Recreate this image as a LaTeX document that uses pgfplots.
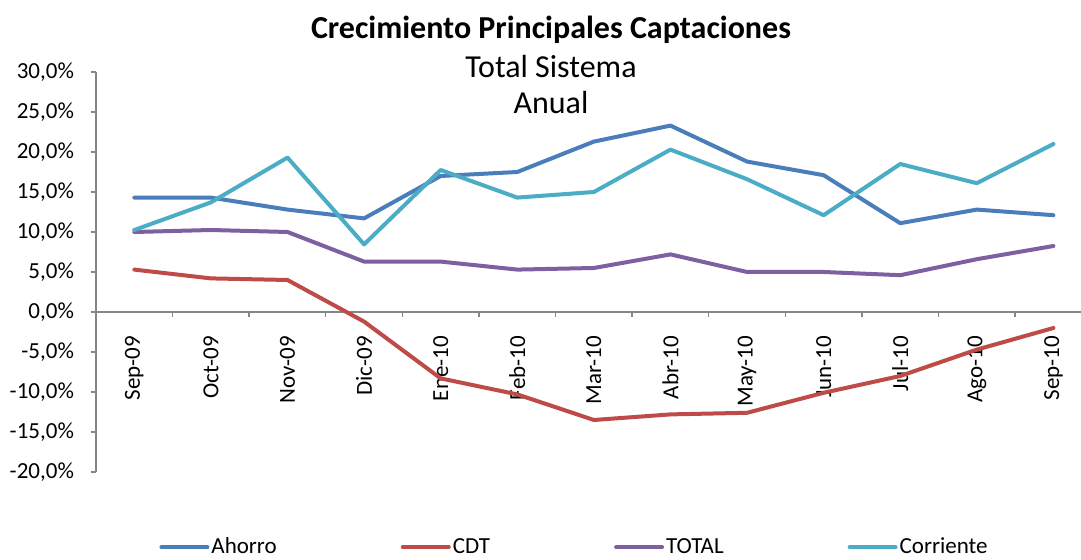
\documentclass[border=0pt]{standalone}
\usepackage{fontspec}
\setmainfont{Carlito}
\usepackage{pgfplots}
\pgfplotsset{compat=1.18}
\definecolor{ahorro}{HTML}{4A7EBB}
\definecolor{cdt}{HTML}{BE4B48}
\definecolor{total}{HTML}{7D60A0}
\definecolor{corriente}{HTML}{4BACC6}
\definecolor{axisgray}{HTML}{868686}

\begin{document}
\begin{tikzpicture}
\begin{axis}[
  scale only axis, width=492.5pt, height=200pt,
  xmin=-0.5, xmax=12.36, ymin=-20, ymax=30,
  axis y line*=left, axis x line*=middle,
  axis line style={axisgray, line width=0.7pt},
  tick style={axisgray, line width=0.7pt},
  tick align=outside,
  major tick length=2.5pt, minor tick length=2.5pt,
  xtick={0,...,12},
  xticklabels={Sep-09,Oct-09,Nov-09,Dic-09,Ene-10,Feb-10,Mar-10,Abr-10,May-10,Jun-10,Jul-10,Ago-10,Sep-10},
  minor xtick={-0.5,0.5,...,11.5},
  major x tick style={draw=none},
  xticklabel style={rotate=90, anchor=east},
  xticklabel shift=6pt,
  ytick={-20,-15,...,30},
  yticklabel={\pgfmathprintnumber[fixed,fixed zerofill,precision=1,use comma]{\tick}\%},
  yticklabel shift=5pt,
  /pgf/number format/assume math mode=true,
  ticklabel style={font=\fontsize{11.5}{13}\selectfont},
  legend columns=4,
  legend cell align=left,
  legend style={draw=none, fill=none, inner sep=0pt, at={(0.064,-0.188)}, anchor=west,
    font=\fontsize{11.5}{13}\selectfont, nodes={inner sep=1pt},
    /tikz/every even column/.append style={column sep=61pt}},
  legend image code/.code={\draw[#1] (0pt,0pt) -- (23pt,0pt);},
  every axis plot/.append style={line width=2pt, line join=round, line cap=round},
]
\addplot[ahorro] coordinates {
  (0,14.3) (1,14.3) (2,12.8) (3,11.7) (4,17.0) (5,17.5) (6,21.3)
  (7,23.3) (8,18.8) (9,17.1) (10,11.1) (11,12.8) (12,12.1)};
\addlegendentry{Ahorro}
\addplot[cdt] coordinates {
  (0,5.3) (1,4.2) (2,4.0) (3,-1.2) (4,-8.3) (5,-10.3) (6,-13.5)
  (7,-12.8) (8,-12.6) (9,-10.1) (10,-8.0) (11,-4.7) (12,-2.0)};
\addlegendentry{CDT}
\addplot[total] coordinates {
  (0,10.0) (1,10.25) (2,10.0) (3,6.3) (4,6.3) (5,5.3) (6,5.5)
  (7,7.2) (8,5.0) (9,5.0) (10,4.6) (11,6.6) (12,8.25)};
\addlegendentry{TOTAL}
\addplot[corriente] coordinates {
  (0,10.25) (1,13.7) (2,19.3) (3,8.45) (4,17.75) (5,14.3) (6,15.0)
  (7,20.3) (8,16.6) (9,12.1) (10,18.5) (11,16.1) (12,21.0)};
\addlegendentry{Corriente}
\end{axis}
\node[font=\fontsize{16}{19}\selectfont\bfseries] at ([shift={(227.5pt,221pt)}]current axis.south west) {Crecimiento Principales Captaciones};
\node[font=\fontsize{16}{19}\selectfont] at ([shift={(227.5pt,202.5pt)}]current axis.south west) {Total Sistema};
\node[font=\fontsize{16}{19}\selectfont] at ([shift={(227.5pt,184.5pt)}]current axis.south west) {Anual};
\pgfresetboundingbox
\path ([shift={(-48pt,-44pt)}]current axis.south west) rectangle ([shift={(492.5pt,236pt)}]current axis.south west);
\end{tikzpicture}
\end{document}
